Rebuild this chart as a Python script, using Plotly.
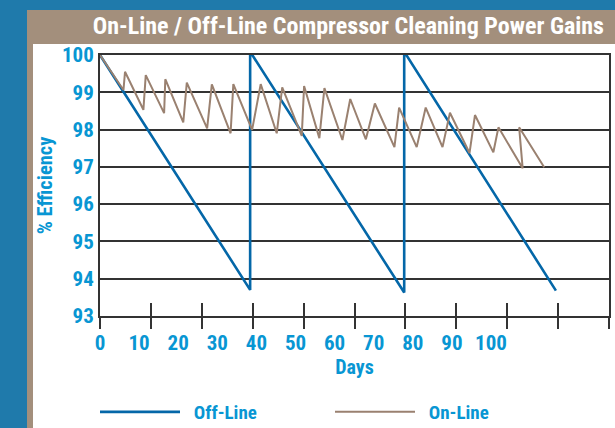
import plotly.graph_objects as go

# ---- data (days, % efficiency) ----
offline_days = [0, 38.4, 38.4, 77.8, 77.8, 116.6]
offline_eff = [100.0, 93.70, 100.09, 93.63, 100.09, 93.68]

online_days = [0, 6.0, 6.4, 11.1, 11.7, 16.4, 16.7, 21.3, 22.2, 27.4, 28.6, 33.4, 34.1,
               38.9, 41.1, 45.2, 46.6, 51.6, 52.2, 56.1, 57.4, 62.0, 64.0, 68.0, 70.3,
               75.3, 76.5, 81.0, 83.3, 87.6, 89.5, 94.5, 95.9, 100.6, 101.9, 108.1,
               107.2, 113.6]
online_eff = [100.0, 99.06, 99.55, 98.53, 99.46, 98.44, 99.35, 98.19, 99.26, 98.03, 99.21,
              97.90, 99.22, 97.99, 99.22, 97.90, 99.13, 97.83, 99.17, 97.77, 99.11, 97.72,
              98.82, 97.74, 98.70, 97.53, 98.59, 97.53, 98.59, 97.53, 98.45, 97.37, 98.39,
              97.39, 98.06, 96.96, 98.06, 96.99]

x_tick_vals = [0, 10, 20, 30, 40, 50, 60, 70, 80, 90, 100]
x_tick_text = [str(v) for v in x_tick_vals]
y_tick_vals = [93, 94, 95, 96, 97, 98, 99, 100]

# ---- style ----
FONT = "Roboto Condensed, Open Sans Condensed, sans-serif"
LABEL_BLUE = "#0896D3"
OFF_BLUE = "#0467A8"
ON_BROWN = "#9A8170"
TAN = "#A38F7C"
BG_BLUE = "#1F7AAB"
GRID = "#333333"
NBSP = "\u00a0"

W, H = 615, 428
L, R, T, B = 100, 6, 55, 112
PW, PH = W - L - R, H - T - B


def px(x):
    return (x - L) / PW


def py(y):
    return (H - B - y) / PH


fig = go.Figure()
fig.add_trace(go.Scatter(x=offline_days, y=offline_eff, mode="lines",
                         name=NBSP * 2 + "<b>Off-Line</b>",
                         line=dict(color=OFF_BLUE, width=2.6), cliponaxis=False))
fig.add_trace(go.Scatter(x=online_days, y=online_eff, mode="lines",
                         name=NBSP * 2 + "<b>On-Line</b>",
                         line=dict(color=ON_BROWN, width=2), cliponaxis=False))
# empty helper traces so the tick-mark overlay axes get drawn
for ax in ("x2", "x3"):
    fig.add_trace(go.Scatter(x=[], y=[], xaxis=ax, yaxis="y", showlegend=False,
                             hoverinfo="skip", mode="lines"))

shapes = [
    dict(type="rect", xref="paper", yref="paper", x0=px(0), x1=px(W), y0=py(H), y1=py(0),
         fillcolor=BG_BLUE, line_width=0, layer="below"),
    dict(type="rect", xref="paper", yref="paper", x0=px(27), x1=px(W), y0=py(H), y1=py(10),
         fillcolor=TAN, line_width=0, layer="below"),
    dict(type="rect", xref="paper", yref="paper", x0=px(33), x1=px(W), y0=py(H), y1=py(44),
         fillcolor="white", line_width=0, layer="below"),
]

x_range = [0, PW / 3.91]

fig.update_layout(
    width=W, height=H,
    margin=dict(l=L, r=R, t=T, b=B, pad=0, autoexpand=False),
    paper_bgcolor="white", plot_bgcolor="white",
    font=dict(family=FONT, color=LABEL_BLUE, size=19),
    shapes=shapes,
    title=dict(text="<b>On-Line / Off-Line Compressor Cleaning Power Gains</b>",
               xref="paper", x=px(604), xanchor="right",
               yref="container", y=1 - 26 / H, yanchor="middle",
               font=dict(family=FONT, size=24, color="white")),
    xaxis=dict(range=x_range, tickvals=x_tick_vals, ticktext=["<b>%s</b>" % t for t in x_tick_text],
               ticks="", showgrid=False, zeroline=False, showline=True, mirror=True,
               linecolor=GRID, linewidth=2, tickfont=dict(size=21, color=LABEL_BLUE),
               ticklabelstandoff=7,
               title=dict(text="<b>Days</b>", font=dict(size=20, color=LABEL_BLUE), standoff=3)),
    xaxis2=dict(range=[0, 10], dtick=1, overlaying="x", anchor="y", side="bottom",
                ticks="outside", ticklen=12, tickwidth=2, tickcolor=GRID,
                showticklabels=False, showgrid=False, zeroline=False, showline=False),
    xaxis3=dict(range=[0, 10], dtick=1, overlaying="x", anchor="y", side="bottom",
                ticks="inside", ticklen=13, tickwidth=2, tickcolor=GRID,
                showticklabels=False, showgrid=False, zeroline=False, showline=False),
    yaxis=dict(range=[93, 100], tickvals=y_tick_vals,
               ticktext=["<b>%d</b>" % v for v in y_tick_vals],
               ticks="", showgrid=True, gridcolor=GRID, gridwidth=2, zeroline=False,
               showline=True, mirror=True, linecolor=GRID, linewidth=2,
               tickfont=dict(size=21, color=LABEL_BLUE), ticklabelstandoff=0,
               title=dict(text="<b>% Efficiency</b>", font=dict(size=20.5, color=LABEL_BLUE), standoff=4)),
    legend=dict(orientation="h", x=px(95), xanchor="left", y=py(393), yanchor="top",
                itemwidth=80, entrywidth=140, entrywidthmode="pixels",
                font=dict(size=19, color=LABEL_BLUE), bgcolor="rgba(0,0,0,0)"),
    showlegend=True,
)

fig.write_html("out.html", config={"displayModeBar": False},
               post_script="document.body.style.margin='0';")
